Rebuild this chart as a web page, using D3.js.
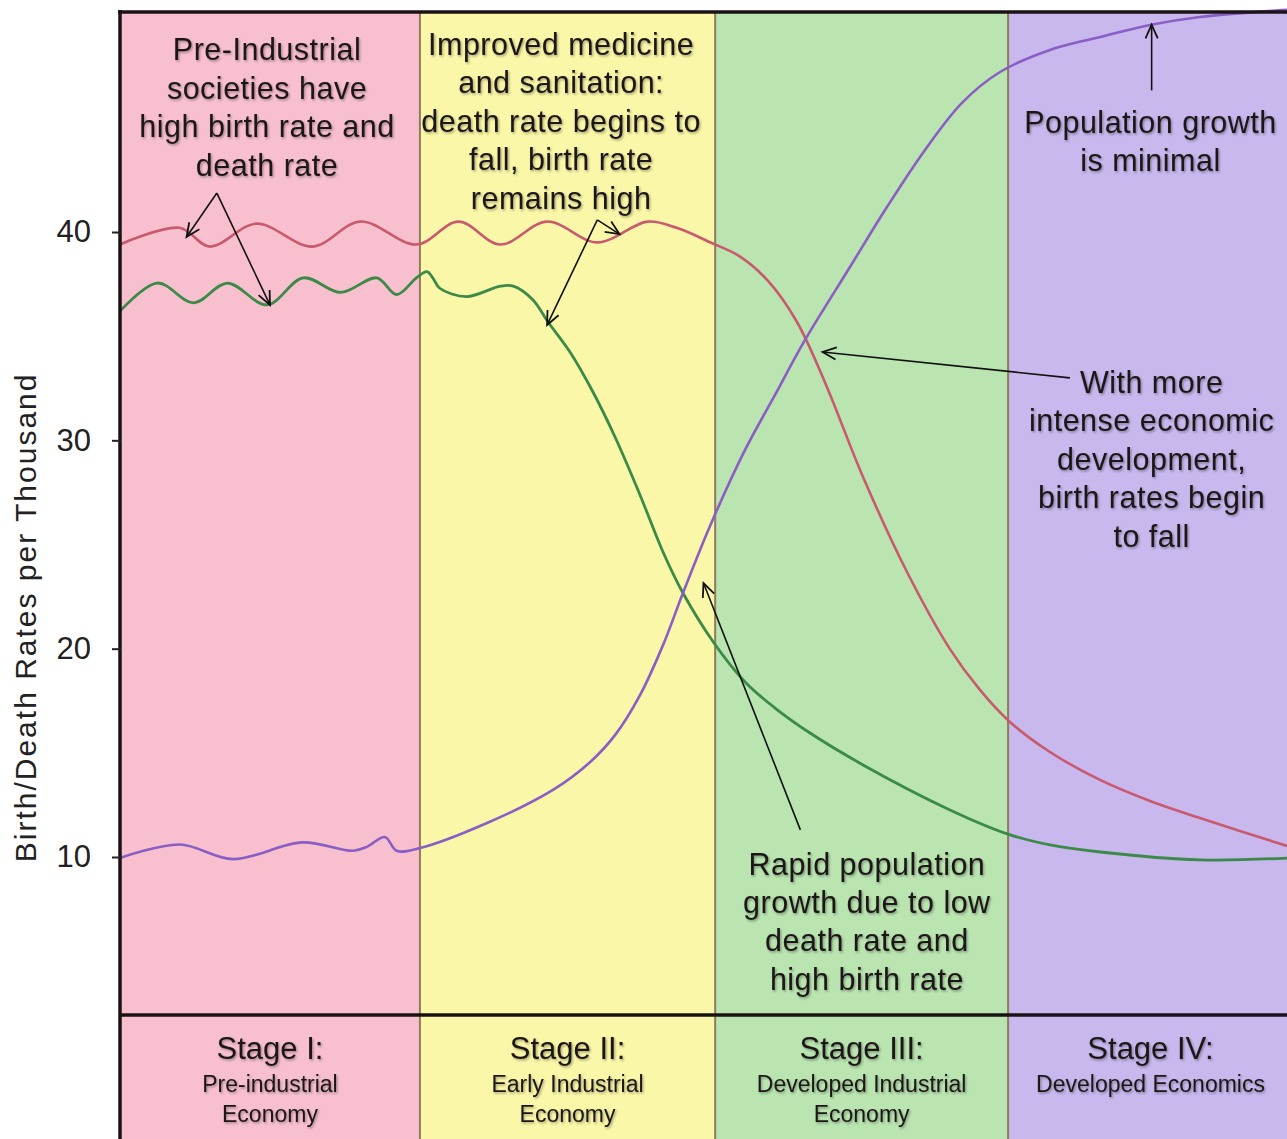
<!DOCTYPE html>
<html>
<head>
<meta charset="utf-8">
<script src="https://cdn.jsdelivr.net/npm/d3@7"></script>
<style>
  html, body { margin: 0; padding: 0; background: #ffffff; }
  svg { display: block; }
  text { font-family: "Liberation Sans", Arial, Helvetica, sans-serif; }
</style>
</head>
<body>
<svg id="chart" width="1287" height="1139"></svg>
<script>
// ---------------- DATA ----------------
// time axis runs 0..100 across the four stages
const stageNames = ["Stage I:", "Stage II:", "Stage III:", "Stage IV:"];
const stageSubtitles = [
  ["Pre-industrial", "Economy"],
  ["Early Industrial", "Economy"],
  ["Developed Industrial", "Economy"],
  ["Developed Economics"]
];
const stageStarts = [0, 25.7, 51.0, 76.1];
const stageEnds   = [25.7, 51.0, 76.1, 100];
const stageColors = ["#f8c0cf", "#faf7a8", "#bae5b1", "#c8b8ee"];

const yTicks = [10, 20, 30, 40];
const yTitle = "Birth/Death Rates per Thousand";

// Birth rate (red)
const birthT = [0, 5.1, 7.7, 11.7, 16.5, 20.6, 25.4, 29.0, 32.6, 36.6, 40.9, 45.2, 47.7, 50.7, 53.04, 55.53, 58.01, 60.50, 63.67, 67.44, 71.12, 73.69, 76.26, 79.69, 83.98, 88.26, 92.54, 100];
const birthV = [39.4, 40.2, 39.3, 40.4, 39.3, 40.5, 39.4, 40.5, 39.4, 40.5, 39.5, 40.5, 40.2, 39.47, 38.85, 37.65, 35.68, 32.66, 28.24, 23.68, 19.98, 18.02, 16.48, 15.04, 13.70, 12.69, 11.87, 10.53];

// Death rate (green)
const deathT = [0, 3.2, 6.3, 9.2, 12.6, 15.7, 18.9, 22.0, 23.7, 25.4, 26.3, 26.8, 27.4, 29.7, 32.6, 33.7, 35.39, 36.68, 38.56, 40.53, 42.42, 44.56, 46.53, 48.24, 50.90, 53.56, 56.13, 59.13, 63.67, 71.12, 76.09, 79.69, 83.98, 92.54, 100];
const deathV = [36.2, 37.55, 36.6, 37.55, 36.5, 37.8, 37.1, 37.8, 37.0, 37.8, 38.1, 37.8, 37.3, 36.9, 37.4, 37.4, 36.74, 35.68, 34.24, 32.32, 30.16, 27.38, 24.64, 22.67, 20.27, 18.40, 17.15, 15.95, 14.42, 12.26, 11.10, 10.58, 10.24, 9.86, 9.95];

// Population (purple)
const popT = [0, 5.1, 9.7, 15.6, 20.0, 21.2, 22.7, 23.7, 25.71, 31.45, 37.10, 40.27, 42.42, 44.56, 46.53, 48.24, 50.56, 53.56, 56.13, 58.70, 62.55, 65.72, 68.98, 72.15, 75.41, 79.69, 83.98, 88.26, 92.54, 100];
const popV = [9.95, 10.6, 9.9, 10.7, 10.3, 10.5, 10.96, 10.3, 10.43, 11.63, 13.22, 14.55, 15.85, 17.77, 20.17, 22.67, 25.89, 29.54, 32.18, 34.82, 38.32, 41.2, 43.94, 46.2, 47.68, 48.74, 49.36, 49.94, 50.32, 50.66];

// Annotation texts (centre x in time units, first baseline in rate units)
const noteTexts = [
  ["Pre-Industrial", "societies have", "high birth rate and", "death rate"],
  ["Improved medicine", "and sanitation:", "death rate begins to", "fall, birth rate", "remains high"],
  ["Population growth", "is minimal"],
  ["With more", "intense economic", "development,", "birth rates begin", "to fall"],
  ["Rapid population", "growth due to low", "death rate and", "high birth rate"]
];
const noteX = [12.6, 37.8, 88.3, 88.4, 64.0];
const noteY = [48.24, 48.5, 44.75, 32.27, 9.16];

// Arrows: [fromT, fromV] -> [toT, toV]
const arrowFrom = [[8.3, 41.87], [8.3, 41.87], [40.9, 40.58], [40.9, 40.58], [88.4, 46.8], [81.4, 33.0], [58.3, 11.3]];
const arrowTo   = [[5.7, 39.76], [12.85, 36.5], [42.8, 39.9], [36.6, 35.54], [88.4, 49.95], [60.2, 34.24], [50.0, 23.15]];

// ---------------- LAYOUT ----------------
const W = 1287, H = 1139;
const plotLeft = 120, plotRight = 1287, plotTop = 12, plotBottom = 1015;
const svg = d3.select("#chart");

const x = d3.scaleLinear().domain([0, 100]).range([plotLeft, plotRight]);
const y = d3.scaleLinear().domain([10, 40]).range([857, 232]);

const defs = svg.append("defs");
const f = defs.append("filter").attr("id", "shadow").attr("x", "-10%").attr("y", "-20%").attr("width", "120%").attr("height", "140%");
f.append("feDropShadow").attr("dx", 1.2).attr("dy", 1.5).attr("stdDeviation", 1.3)
  .attr("flood-color", "#000").attr("flood-opacity", 0.35);

// stage backgrounds
svg.append("g").selectAll("rect").data(stageNames).join("rect")
  .attr("x", (d, i) => x(stageStarts[i]))
  .attr("y", plotTop)
  .attr("width", (d, i) => x(stageEnds[i]) - x(stageStarts[i]))
  .attr("height", H - plotTop)
  .attr("fill", (d, i) => stageColors[i]);

// stage dividers
svg.append("g").selectAll("line").data(stageStarts.slice(1)).join("line")
  .attr("x1", d => x(d)).attr("x2", d => x(d))
  .attr("y1", plotTop).attr("y2", H)
  .attr("stroke", "#8f7a5e").attr("stroke-width", 2);

// lines
const line = d3.line().curve(d3.curveCatmullRom.alpha(0.5));
function series(ts, vs) { return ts.map((t, i) => [x(t), y(vs[i])]); }

svg.append("path").attr("d", line(series(birthT, birthV)))
  .attr("fill", "none").attr("stroke", "#c95a6e").attr("stroke-width", 2.6);
svg.append("path").attr("d", line(series(deathT, deathV)))
  .attr("fill", "none").attr("stroke", "#3b8a48").attr("stroke-width", 2.8);
svg.append("path").attr("d", line(series(popT, popV)))
  .attr("fill", "none").attr("stroke", "#8a5ec4").attr("stroke-width", 2.6);

// frame
svg.append("line").attr("x1", plotLeft - 2).attr("x2", W).attr("y1", plotTop).attr("y2", plotTop)
  .attr("stroke", "#1a1214").attr("stroke-width", 3.5);
svg.append("line").attr("x1", plotLeft).attr("x2", W).attr("y1", plotBottom).attr("y2", plotBottom)
  .attr("stroke", "#1a1214").attr("stroke-width", 3.5);
svg.append("line").attr("x1", plotLeft).attr("x2", plotLeft).attr("y1", plotTop - 2).attr("y2", H)
  .attr("stroke", "#1a1214").attr("stroke-width", 3.5);

// y axis
const yAxis = d3.axisLeft(y).tickValues(yTicks).tickSize(9).tickPadding(21);
const gy = svg.append("g").attr("transform", `translate(${plotLeft + 1},0)`).call(yAxis);
gy.select(".domain").remove();
gy.selectAll(".tick line").attr("stroke", "#222").attr("stroke-width", 2);
gy.selectAll(".tick text").attr("font-size", 31).attr("fill", "#222")
  .style("font-family", "'Liberation Sans', Arial, sans-serif");

svg.append("text")
  .attr("transform", `translate(36,${y(21.5)}) rotate(-90)`)
  .attr("text-anchor", "middle")
  .attr("font-size", 30)
  .attr("letter-spacing", 2)
  .attr("fill", "#222")
  .text(yTitle);

// annotations
const lineGap = 38.4;
const notes = svg.append("g").attr("filter", "url(#shadow)");
noteTexts.forEach((lines, k) => {
  const t = notes.append("text")
    .attr("text-anchor", "middle")
    .attr("font-size", 30.5)
    .attr("letter-spacing", 0.5)
    .attr("fill", "#1c1616");
  lines.forEach((s, j) => {
    t.append("tspan").attr("x", x(noteX[k])).attr("y", y(noteY[k]) + j * lineGap).text(s);
  });
});

// arrows
const arrows = svg.append("g");
arrowFrom.forEach((a, i) => {
  const x1 = x(a[0]), y1 = y(a[1]), x2 = x(arrowTo[i][0]), y2 = y(arrowTo[i][1]);
  arrows.append("line").attr("x1", x1).attr("y1", y1).attr("x2", x2).attr("y2", y2)
    .attr("stroke", "#111").attr("stroke-width", 1.6);
  const ang = Math.atan2(y2 - y1, x2 - x1);
  const L = 15, spread = 0.42;
  const p1 = [x2 - L * Math.cos(ang - spread), y2 - L * Math.sin(ang - spread)];
  const p2 = [x2 - L * Math.cos(ang + spread), y2 - L * Math.sin(ang + spread)];
  arrows.append("path").attr("d", `M${p1[0]},${p1[1]}L${x2},${y2}L${p2[0]},${p2[1]}`)
    .attr("fill", "none").attr("stroke", "#111").attr("stroke-width", 1.8);
});

// stage labels
const stageG = svg.append("g").attr("filter", "url(#shadow)");
stageNames.forEach((n, i) => {
  const cx = (x(stageStarts[i]) + x(stageEnds[i])) / 2 + (i === 3 ? 3 : 0);
  stageG.append("text").attr("x", cx).attr("y", 1059).attr("text-anchor", "middle")
    .attr("font-size", 31).attr("fill", "#1c1616").text(n);
  stageSubtitles[i].forEach((s, j) => {
    stageG.append("text").attr("x", cx).attr("y", 1092 + j * 30).attr("text-anchor", "middle")
      .attr("font-size", 23).attr("fill", "#1c1616").text(s);
  });
});
</script>
</body>
</html>
